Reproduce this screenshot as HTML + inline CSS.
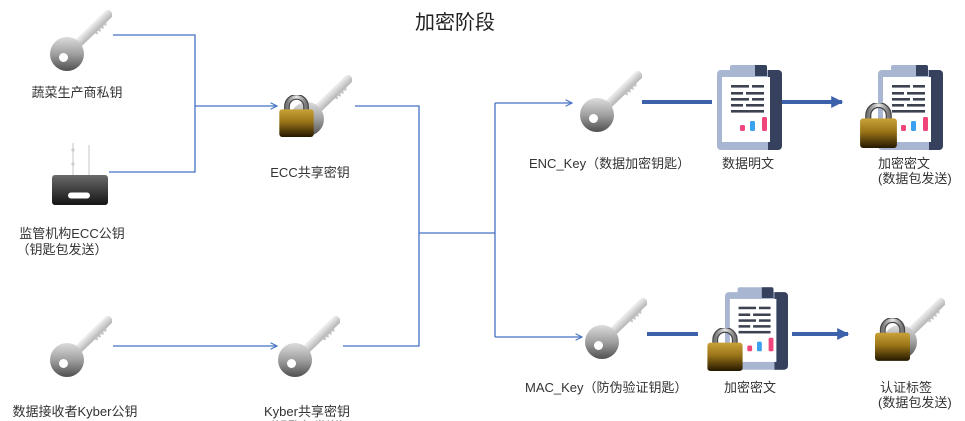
<!DOCTYPE html>
<html><head><meta charset="utf-8">
<style>
html,body{margin:0;padding:0;background:#fff;}
svg{display:block;}
text{font-family:"Liberation Sans","Noto Sans CJK SC",sans-serif;fill:#333;font-size:13px;}
</style></head>
<body>
<svg width="965" height="421" viewBox="0 0 965 421" xmlns="http://www.w3.org/2000/svg">
<defs>
  <linearGradient id="gHead" x1="0" y1="0" x2="0" y2="1">
    <stop offset="0" stop-color="#dcdcdc"/>
    <stop offset="0.5" stop-color="#a0a0a0"/>
    <stop offset="1" stop-color="#505050"/>
  </linearGradient>
  <linearGradient id="gShaft" x1="0" y1="0" x2="0" y2="1">
    <stop offset="0" stop-color="#f2f2f2"/>
    <stop offset="1" stop-color="#b4b4b4"/>
  </linearGradient>
  <linearGradient id="gBody" x1="0" y1="0" x2="0" y2="1">
    <stop offset="0" stop-color="#c9a238"/>
    <stop offset="0.45" stop-color="#9a7418"/>
    <stop offset="1" stop-color="#241800"/>
  </linearGradient>
  <linearGradient id="gShackle" x1="0" y1="0" x2="1" y2="0">
    <stop offset="0" stop-color="#777"/>
    <stop offset="0.5" stop-color="#e8e8e8"/>
    <stop offset="1" stop-color="#777"/>
  </linearGradient>
  <linearGradient id="gRouter" x1="0" y1="0" x2="0" y2="1">
    <stop offset="0" stop-color="#6a6a6a"/>
    <stop offset="1" stop-color="#141414"/>
  </linearGradient>
  <symbol id="key" viewBox="0 0 62 62">
    <g transform="translate(17,44) rotate(-44)">
      <rect x="6" y="-4.5" width="55" height="9" rx="3" fill="url(#gShaft)"/>
      <path d="M34 4 L36 7.5 L38 4.5 L40 7.5 L42 4.5 L44 7.5 L46 4.5 L48 7 L51 4 Z" fill="#c4c4c4"/>
    </g>
    <circle cx="17" cy="44" r="17" fill="url(#gHead)"/>
    <circle cx="13.5" cy="47.5" r="4.5" fill="#fff"/>
  </symbol>
  <symbol id="lock" viewBox="0 0 36 44">
    <path d="M8 17 V12 A10 10 0 0 1 28 12 V17" fill="none" stroke="#444" stroke-width="6"/>
    <path d="M8 17 V12 A10 10 0 0 1 28 12 V17" fill="none" stroke="url(#gShackle)" stroke-width="3.5"/>
    <rect x="0" y="15" width="36" height="29" rx="3" fill="url(#gBody)"/>
  </symbol>
  <symbol id="doc" viewBox="0 0 65 85">
    <rect x="0" y="5" width="65" height="80" rx="4" fill="#a8b6d2"/>
    <path d="M51 5 H61 A4 4 0 0 1 65 9 V81 A4 4 0 0 1 61 85 H51 Z" fill="#36415e"/>
    <rect x="5" y="12" width="48" height="65" fill="#fff"/>
    <rect x="13" y="0" width="37" height="11" rx="2" fill="#a8b6d2"/>
    <path d="M38 0 H48 A2 2 0 0 1 50 2 V11 H38 Z" fill="#36415e"/>
    <g fill="#3c4250">
      <rect x="14" y="20" width="18" height="2.6"/><rect x="35" y="20" width="12" height="2.6"/>
      <rect x="14" y="27" width="12" height="2.6"/><rect x="29" y="27" width="18" height="2.6"/>
      <rect x="14" y="33" width="18" height="2.6"/><rect x="35" y="33" width="12" height="2.6"/>
      <rect x="14" y="39" width="12" height="2.6"/><rect x="29" y="39" width="18" height="2.6"/>
      <rect x="14" y="45" width="33" height="2.6"/>
    </g>
    <rect x="23" y="60" width="5" height="6" rx="1.5" fill="#f0457a"/>
    <rect x="33" y="56" width="5" height="10" rx="1.5" fill="#3aa0f0"/>
    <rect x="45" y="52" width="5" height="14" rx="1.5" fill="#f0457a"/>
  </symbol>
  <marker id="open" viewBox="0 0 10 10" refX="9" refY="5" markerWidth="8" markerHeight="8" markerUnits="userSpaceOnUse" orient="auto">
    <path d="M1 1 L9 5 L1 9" fill="none" stroke="#4472c4" stroke-width="1.4"/>
  </marker>
  <marker id="solid" viewBox="0 0 10 10" refX="9" refY="5" markerWidth="3" markerHeight="3" orient="auto">
    <path d="M0 0 L10 5 L0 10 Z" fill="#3d62ab"/>
  </marker>
</defs>

<!-- Title -->
<text x="455" y="29" text-anchor="middle" style="font-size:20px;fill:#222">加密阶段</text>

<!-- thin connectors -->
<g fill="none" stroke="#4472c4" stroke-width="1.3">
  <polyline points="113,35 195,35 195,172 109,172"/>
  <line x1="195" y1="106" x2="277" y2="106" marker-end="url(#open)"/>
  <polyline points="355,106 419,106 419,346 343,346"/>
  <line x1="113" y1="346" x2="277" y2="346" marker-end="url(#open)"/>
  <line x1="419" y1="233" x2="495" y2="233"/>
  <line x1="495" y1="103" x2="495" y2="337"/>
  <line x1="495" y1="103" x2="572" y2="103" marker-end="url(#open)"/>
  <line x1="495" y1="337" x2="582" y2="337" marker-end="url(#open)"/>
</g>

<!-- thick connectors -->
<g fill="none" stroke="#3d62ab" stroke-width="4">
  <line x1="642" y1="102" x2="712" y2="102"/>
  <line x1="782" y1="102" x2="842" y2="102" marker-end="url(#solid)"/>
  <line x1="647" y1="334" x2="698" y2="334"/>
  <line x1="792" y1="334" x2="848" y2="334" marker-end="url(#solid)"/>
</g>

<!-- key 1 -->
<use href="#key" x="50" y="10" width="62" height="62"/>
<text x="77" y="97" text-anchor="middle">蔬菜生产商私钥</text>

<!-- router -->
<g stroke="#d8d8d8" stroke-width="1.5">
  <line x1="73" y1="143" x2="73" y2="176"/>
  <line x1="89" y1="145" x2="89" y2="176"/>
</g>
<circle cx="73" cy="150" r="1.6" fill="#ccc"/>
<circle cx="73" cy="164" r="1.6" fill="#ccc"/>
<rect x="52" y="175" width="56" height="30" rx="3" fill="url(#gRouter)"/>
<rect x="68" y="192.5" width="22" height="6" rx="3" fill="#fff"/>
<text x="72" y="238" text-anchor="middle">监管机构ECC公钥</text>
<text x="62" y="254" text-anchor="middle">（钥匙包发送）</text>

<!-- ECC shared -->
<use href="#key" x="290" y="75" width="62" height="62"/>
<use href="#lock" x="279" y="95" width="35" height="42"/>
<text x="310" y="177" text-anchor="middle">ECC共享密钥</text>

<!-- Kyber -->
<use href="#key" x="50" y="316" width="62" height="62"/>
<text x="75" y="416" text-anchor="middle">数据接收者Kyber公钥</text>
<use href="#key" x="278" y="316" width="62" height="62"/>
<text x="307" y="416" text-anchor="middle">Kyber共享密钥</text>
<text x="307" y="431" text-anchor="middle" style="fill:#888">（钥匙包发送）</text>

<!-- ENC row -->
<use href="#key" x="580" y="71" width="62" height="62"/>
<text x="529" y="168">ENC_Key（数据加密钥匙）</text>
<use href="#doc" x="717" y="65" width="65" height="85"/>
<text x="748" y="168" text-anchor="middle">数据明文</text>
<use href="#doc" x="878" y="65" width="65" height="85"/>
<use href="#lock" x="860" y="103" width="37" height="45"/>
<text x="878" y="168">加密密文</text>
<text x="878" y="183">(数据包发送)</text>

<!-- MAC row -->
<use href="#key" x="585" y="298" width="62" height="62"/>
<text x="525" y="392">MAC_Key（防伪验证钥匙）</text>
<use href="#doc" x="725" y="287" width="63" height="83"/>
<use href="#lock" x="707" y="328" width="36" height="43"/>
<text x="750" y="392" text-anchor="middle">加密密文</text>
<use href="#key" x="883" y="298" width="62" height="62"/>
<use href="#lock" x="875" y="318" width="35" height="43"/>
<text x="880" y="392">认证标签</text>
<text x="878" y="407">(数据包发送)</text>
</svg>
</body></html>
